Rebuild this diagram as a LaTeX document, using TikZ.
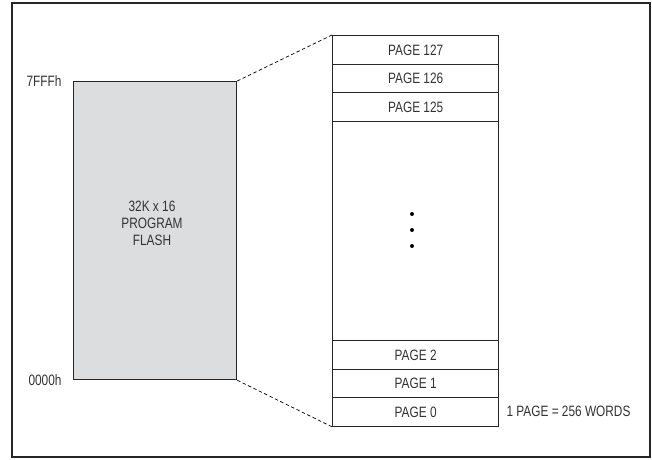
\documentclass[tikz,border=0pt]{standalone}
\usepackage{fontspec}
\setmainfont[FakeStretch=0.79]{Liberation Sans}
\begin{document}
\begin{tikzpicture}[x=1pt,y=-1pt,
  lbl/.style={font=\fontsize{15}{17}\selectfont, text=black!80},
  pagebox/.style={draw=black!85, line width=1.3pt, minimum width=166pt, minimum height=28.5pt, inner sep=0pt, anchor=north west, lbl},
  conn/.style={line width=0.7pt, dash pattern=on 3.5pt off 2.5pt}]
\useasboundingbox (0,0) rectangle (652,459);
\draw[line width=1.4pt, black!85] (12,3) rectangle (650,457);
% flash block
\node[draw=black!85, fill={rgb,255:red,220;green,221;blue,223}, line width=1.2pt, minimum width=163pt, minimum height=298pt, inner sep=0pt, anchor=north west] (flash) at (73,81) {};
\node[lbl, align=center] (flashtxt) at (152,223) {32K x 16\\[0pt]PROGRAM\\[0pt]FLASH};
\node[lbl, anchor=east] (top) at (65,81) {7FFFh};
\node[lbl, anchor=east] (bot) at (65,380) {0000h};
% pages
\node[pagebox] (p127) at (332,35) {PAGE 127};
\node[pagebox] (p126) at (332,63.5) {PAGE 126};
\node[pagebox] (p125) at (332,92) {PAGE 125};
\node[pagebox, minimum height=219.5pt] (mid) at (332,120.5) {};
\node[pagebox] (p2) at (332,340) {PAGE 2};
\node[pagebox] (p1) at (332,368.5) {PAGE 1};
\node[pagebox] (p0) at (332,397) {PAGE 0};
\fill[black] (412,214) circle (2pt) (412,230) circle (2pt) (412,246) circle (2pt);
\node[lbl, anchor=west] (note) at (503,411) {1 PAGE = 256 WORDS};
\draw[conn] (flash.north east) -- (p127.north west);
\draw[conn] (flash.south east) -- (p0.south west);
\end{tikzpicture}
\end{document}
